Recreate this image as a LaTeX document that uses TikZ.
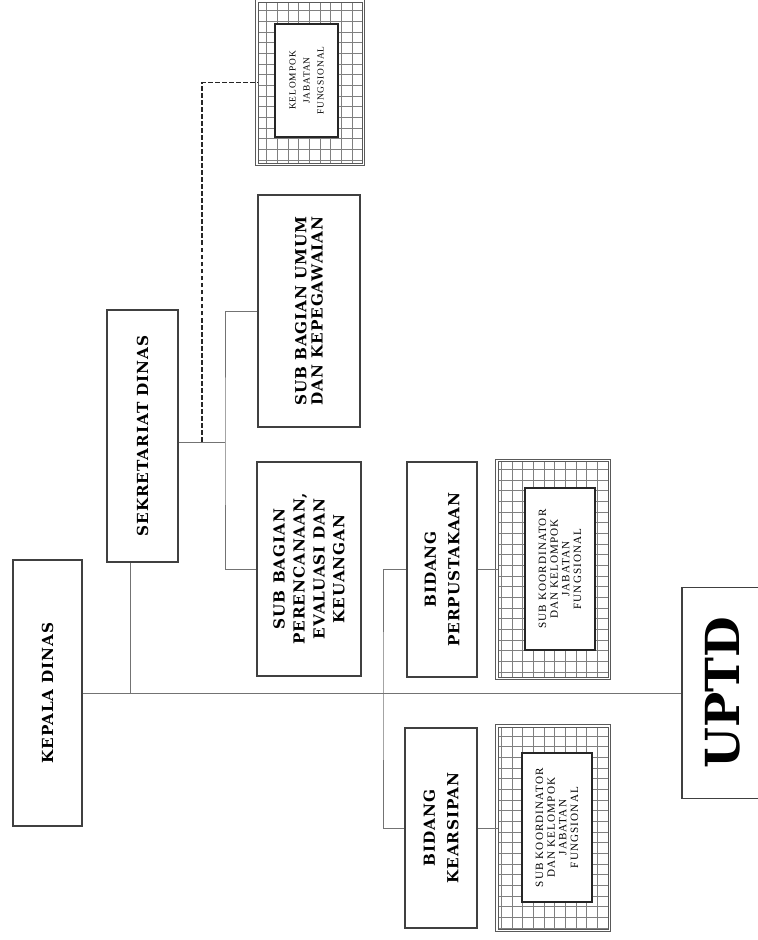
\documentclass[tikz,border=0pt]{standalone}
\usepackage{fontspec}
\setmainfont{DejaVu Serif}
\newfontfamily\boxfont[LetterSpace=6]{DejaVu Serif}
\newfontfamily\bigfont{DejaVu Serif}
\newfontfamily\gridfont[LetterSpace=10]{Liberation Serif}
\newcommand{\gridring}[1]{%
	\begin{scope}
		\clip (#1.south west) rectangle (#1.north east);
		\draw[gridline] (#1.south west) grid[step=0.32cm] (#1.north east);
	\end{scope}
	\draw[frameline] (#1.south west) rectangle (#1.north east);
	\draw[frameline, line width=1pt] ([shift={(2pt,-2pt)}]#1.south west) rectangle ([shift={(-2pt,2pt)}]#1.north east);}
\begin{document}
\begin{tikzpicture}[x=0.03cm, y=-0.03cm,
		boxsize/.style 2 args={minimum width=#2*0.03cm, minimum height=#1*0.03cm},
		unit/.style={draw=black!75, line width=1.2pt, fill=white, rotate=90, align=center, inner sep=2pt, font=\boxfont\bfseries\fontsize{13}{17}\selectfont},
		gridframe/.style={rotate=90, inner sep=0pt, outer sep=0pt},
		gridline/.style={black!50, line width=0.45pt},
		frameline/.style={black!65, line width=0.6pt},
		innerbox/.style={draw=black!85, line width=1.4pt, fill=white, rotate=90, align=center, inner sep=1pt, font=\gridfont\fontsize{9.5}{10}\selectfont},
		link/.style={draw=black!55, line width=0.7pt},
		dashlink/.style={draw=black!85, line width=0.9pt, dash pattern=on 4pt off 2pt}]
		\path[use as bounding box, clip] (0,0) rectangle (758,940);

		% pimpinan dan sekretariat
		\node[unit, boxsize={69}{266}] (kepala) at (47.5,693) {KEPALA DINAS};
		\node[unit, boxsize={71}{252}] (sekretariat) at (142.5,436) {SEKRETARIAT DINAS};
		\node[unit, boxsize={102}{232}, font=\boxfont\bfseries\fontsize{13}{14}\selectfont] (umum) at (309,311) {SUB BAGIAN UMUM\\DAN KEPEGAWAIAN};
		\node[unit, boxsize={104}{214}] (perencanaan) at (309,569) {SUB BAGIAN\\PERENCANAAN,\\EVALUASI DAN\\KEUANGAN};

		% bidang
		\node[unit, boxsize={70}{215}, font=\boxfont\bfseries\fontsize{13}{20}\selectfont] (perpus) at (442,569.5) {BIDANG\\PERPUSTAKAAN};
		\node[unit, boxsize={72}{200}, font=\boxfont\bfseries\fontsize{13}{20}\selectfont] (kearsipan) at (441,828) {BIDANG\\KEARSIPAN};
		\node[unit, boxsize={82}{211}, font=\bigfont\bfseries\fontsize{40}{44}\selectfont] (uptd) at (723,693) {UPTD};

		% kelompok jabatan fungsional
		\node[gridframe, boxsize={104}{161}] (kelompok) at (310,82.5) {};
		\gridring{kelompok}
		\node[innerbox, boxsize={63}{113}, font=\gridfont\fontsize{8}{12}\selectfont] (kelompokisi) at (306.5,80.5) {KELOMPOK\\JABATAN\\FUNGSIONAL};
		\node[gridframe, boxsize={110}{216}] (subperpus) at (553,569.5) {};
		\gridring{subperpus}
		\node[innerbox, boxsize={70}{162}] (subperpusisi) at (560,569) {SUB KOORDINATOR\\DAN KELOMPOK\\JABATAN\\FUNGSIONAL};
		\node[gridframe, boxsize={110}{202}] (subarsip) at (553,828) {};
		\gridring{subarsip}
		\node[innerbox, boxsize={70}{149}] (subarsipisi) at (557,827.5) {SUB KOORDINATOR\\DAN KELOMPOK\\JABATAN\\FUNGSIONAL};

		\coordinate (sekturun) at (130,693);
		\coordinate (sekbus) at (225,442);
		\coordinate (dashpangkal) at (202,442);
		\coordinate (bidbus) at (383,693);

		\draw[link] (kepala) -- (uptd);
		\draw[link] (sekturun) -- (sekturun |- sekretariat.west);
		\draw[link] (sekretariat.south |- sekbus) -- (sekbus);
		\draw[link] (umum) -| (sekbus) |- (perencanaan);
		\draw[dashlink] (dashpangkal) |- (kelompok);
		\draw[link] (perpus) -| (bidbus) |- (kearsipan);
		\draw[link] (perpus) -- (subperpus);
		\draw[link] (kearsipan) -- (subarsip);
	\end{tikzpicture}
\end{document}
